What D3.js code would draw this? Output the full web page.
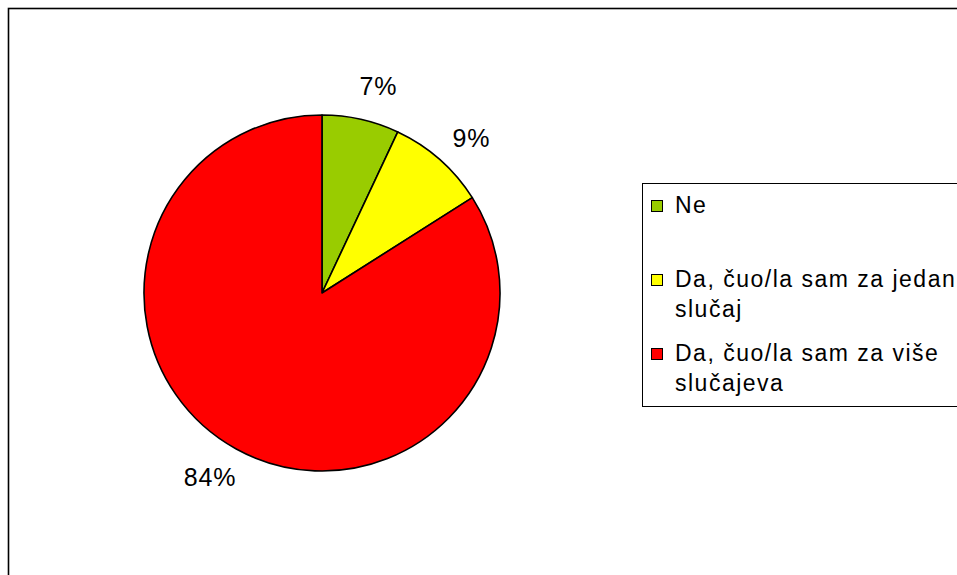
<!DOCTYPE html>
<html>
<head>
<meta charset="utf-8">
<script src="https://cdn.jsdelivr.net/npm/d3@7"></script>
<style>
  body { margin: 0; background: #fff; }
  svg { display: block; font-family: "Liberation Sans", Arial, sans-serif; }
</style>
</head>
<body>
<svg id="chart" width="957" height="575"></svg>
<script>
// data
const categories = ['Ne', 'Da, čuo/la sam za jedan slučaj', 'Da, čuo/la sam za više slučajeva']
const values = [7, 9, 84]
const legendLines = [['Ne'], ['Da, čuo/la sam za jedan', 'slučaj'], ['Da, čuo/la sam za više', 'slučajeva']]
const colors = ['#99CC00', '#FFFF00', '#FF0000']

const svg = d3.select('#chart')

// chart frame (right and bottom edge are cut off in the original)
svg.append('rect')
  .attr('x', 8.5).attr('y', 8.5)
  .attr('width', 1000).attr('height', 1000)
  .attr('fill', 'none')
  .attr('stroke', '#000')
  .attr('stroke-width', 1.6)

const cx = 322, cy = 293, r = 178
const total = d3.sum(values)

const pie = d3.pie().sort(null).value(d => d)
const arcs = pie(values)
const arc = d3.arc().innerRadius(0).outerRadius(r)
const labelR = r + 37
const labelShift = 0.045 // labels sit a little clockwise of the mid angle

const g = svg.append('g').attr('transform', `translate(${cx},${cy})`)

g.selectAll('path.slice')
  .data(arcs)
  .join('path')
  .attr('class', 'slice')
  .attr('d', arc)
  .attr('fill', (d, i) => colors[i])
  .attr('stroke', '#000')
  .attr('stroke-width', 1.6)
  .attr('stroke-linejoin', 'round')

const pct = d3.format('.0%')
g.selectAll('text.lbl')
  .data(arcs)
  .join('text')
  .attr('class', 'lbl')
  .attr('transform', d => {
    const a = (d.startAngle + d.endAngle) / 2 + labelShift
    return `translate(${Math.sin(a) * labelR},${-Math.cos(a) * labelR})`
  })
  .attr('text-anchor', 'middle')
  .attr('dy', '0.36em')
  .attr('font-size', 25)
  .attr('letter-spacing', 0.8)
  .attr('fill', '#000')
  .text(d => pct(d.data / total))

// legend
const legend = svg.append('g')
legend.append('rect')
  .attr('x', 642.5).attr('y', 183.5)
  .attr('width', 400).attr('height', 223)
  .attr('fill', '#fff')
  .attr('stroke', '#000')
  .attr('stroke-width', 1)

const rowY = d3.scaleOrdinal().domain(categories).range([213, 287, 361])
const lineH = 30

const items = legend.selectAll('g.item')
  .data(categories)
  .join('g')
  .attr('class', 'item')
  .attr('transform', d => `translate(0,${rowY(d)})`)

items.append('rect')
  .attr('x', 651.5).attr('y', -12.5)
  .attr('width', 11).attr('height', 11)
  .attr('fill', (d, i) => colors[i])
  .attr('stroke', '#000')
  .attr('stroke-width', 1)

items.append('text')
  .attr('x', 675)
  .attr('font-size', 23)
  .attr('letter-spacing', 1.5)
  .attr('fill', '#000')
  .selectAll('tspan')
  .data((d, i) => legendLines[i])
  .join('tspan')
  .attr('x', 675)
  .attr('dy', (d, i) => i === 0 ? 0 : lineH)
  .text(d => d)
</script>
</body>
</html>
